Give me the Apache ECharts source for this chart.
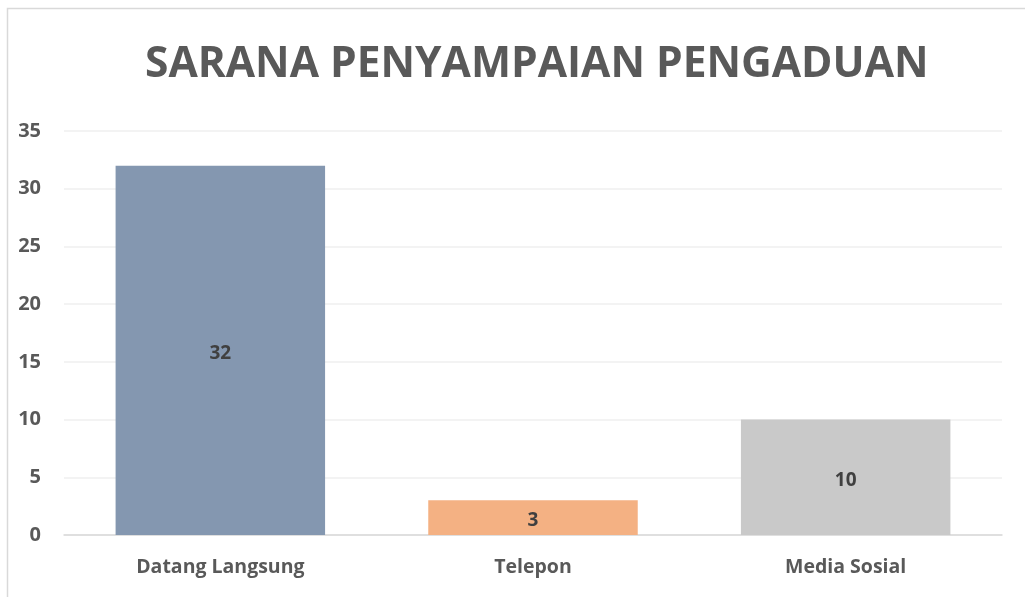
<!DOCTYPE html>
<html>
<head>
<meta charset="utf-8">
<script src="https://cdn.jsdelivr.net/npm/echarts@6/dist/echarts.min.js"></script>
<style>
  html, body { margin: 0; padding: 0; background: #fff; }
  #chart { width: 1025px; height: 597px; }
</style>
</head>
<body>
<div id="chart"></div>
<script>
const categories = ['Datang Langsung', 'Telepon', 'Media Sosial'];
const values = [32, 3, 10];
const barColors = ['#8497B0', '#F4B183', '#C9C9C9'];

const chart = echarts.init(document.getElementById('chart'), null, { renderer: 'canvas' });

const option = {
  animation: false,
  backgroundColor: '#fff',
  graphic: [
    {
      type: 'rect',
      shape: { x: 7.5, y: 8.5, width: 1040, height: 620 },
      style: { fill: 'none', stroke: '#D9D9D9', lineWidth: 1.5 },
      silent: true,
    },
  ],
  title: {
    text: 'SARANA PENYAMPAIAN PENGADUAN',
    left: 140,
    top: 38,
    textStyle: { fontFamily: 'Open Sans', fontWeight: 'bold', fontSize: 42.5, color: '#595959' },
  },
  grid: { left: 64, right: 23, top: 131, bottom: 62, containLabel: false },
  xAxis: {
    type: 'category',
    data: categories,
    axisLine: { lineStyle: { color: '#D9D9D9', width: 1.5 } },
    axisTick: { show: false },
    axisLabel: {
      margin: 22,
      fontFamily: 'Open Sans',
      fontWeight: 'bold',
      fontSize: 19.5,
      color: '#595959',
    },
  },
  yAxis: {
    type: 'value',
    min: 0,
    max: 35,
    interval: 5,
    axisLine: { show: false },
    axisTick: { show: false },
    splitLine: { lineStyle: { color: '#EFEFEF', width: 1.5 } },
    axisLabel: {
      margin: 23,
      fontFamily: 'Open Sans',
      fontWeight: 'bold',
      fontSize: 20,
      color: '#595959',
    },
  },
  series: [
    {
      type: 'bar',
      barCategoryGap: '33%',
      data: values.map((v, i) => ({ value: v, itemStyle: { color: barColors[i] } })),
      label: {
        show: true,
        position: 'inside',
        offset: [0, 3],
        fontFamily: 'Open Sans',
        fontWeight: 'bold',
        fontSize: 19,
        color: '#404040',
      },
    },
  ],
};

chart.setOption(option);
</script>
</body>
</html>
